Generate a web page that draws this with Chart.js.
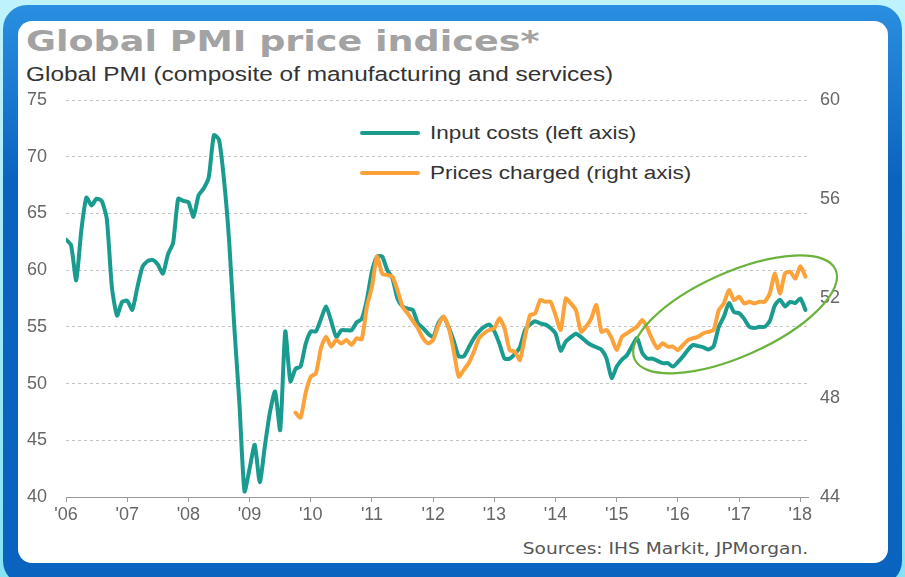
<!DOCTYPE html>
<html lang="en">
<head>
  <meta charset="UTF-8">
  <title>Global PMI price indices</title>
  <script src="https://cdn.jsdelivr.net/npm/chart.js"></script>
  <style>
    html, body { margin: 0; padding: 0; }
    body { width: 905px; height: 577px; position: relative; overflow: hidden;
           background: linear-gradient(#bff3fb, #86e3f3); font-family: "Liberation Sans", Arial, sans-serif; }
    .frame { position: absolute; left: 3px; top: 5px; width: 899px; height: 580px; border-radius: 24px;
             background: linear-gradient(#2a8fe0, #0b63c0 30%, #0b63c0); }
    .panel { position: absolute; left: 18px; top: 21px; width: 870px; height: 542px; border-radius: 14px; background: #fff; }
    .txt { position: absolute; white-space: nowrap; line-height: 1; transform-origin: left center; }
    #title { left: 26px; top: 24px; font: bold 29px "DejaVu Sans", Verdana, sans-serif; color: #a3a3a3; transform: scaleX(1.26); }
    #subtitle { left: 26px; top: 64px; font-size: 20px; color: #333; transform: scaleX(1.22); }
    #sources { right: 97px; top: 540px; font: 15px "DejaVu Sans", Verdana, sans-serif; color: #555; transform-origin: right center; transform: scaleX(1.24); }
    .key { position: absolute; left: 360px; width: 60px; height: 4px; border-radius: 2px; }
    .keytxt { left: 430px; font-size: 18px; color: #333; transform: scaleX(1.25); }
    canvas { position: absolute; left: 0; top: 0; }
  </style>
</head>
<body>
  <div class="frame"></div>
  <div class="panel"></div>
  <div id="title" class="txt">Global PMI price indices*</div>
  <div id="subtitle" class="txt">Global PMI (composite of manufacturing and services)</div>
  <div class="key" style="top:131px;background:#1a9b90"></div>
  <div class="txt keytxt" style="top:124px">Input costs (left axis)</div>
  <div class="key" style="top:171px;background:#fba23a"></div>
  <div class="txt keytxt" style="top:164px">Prices charged (right axis)</div>
  <div id="sources" class="txt">Sources: IHS Markit, JPMorgan.</div>
  <canvas id="chart" width="905" height="577"></canvas>

  <script>
    // x axis: months since Jan 2006, one label per year
    const yearLabels = ["'06", "'07", "'08", "'09", "'10", "'11", "'12", "'13", "'14", "'15", "'16", "'17", "'18"];

    // Input costs, left axis, Jan 2006 .. Feb 2018
    const inputCosts = [
      62.7, 62.2, 59.1, 63.5, 66.4, 65.7, 66.3, 66.1, 64.5, 58.5, 56.0, 57.2,
      57.3, 56.5, 58.5, 60.3, 60.8, 60.9, 60.5, 59.7, 61.4, 62.4, 66.3, 66.1,
      66.0, 64.7, 66.6, 67.2, 68.2, 71.9, 71.5, 67.9, 62.5, 55.0, 48.3, 40.5,
      42.5, 44.6, 41.3, 44.5, 47.5, 49.3, 45.9, 54.6, 50.2, 51.3, 51.5, 53.5,
      54.6, 54.6, 55.7, 56.8, 55.5, 54.1, 54.7, 54.7, 54.7, 55.4, 55.7, 57.4,
      59.9, 61.2, 61.2, 60.0, 59.3, 57.5, 56.8, 56.6, 56.5, 55.3, 54.9, 54.4,
      54.1, 55.3, 55.9, 55.0, 53.8, 52.4, 52.4, 53.2, 54.0, 54.6, 55.0, 55.2,
      54.6, 53.5, 52.2, 52.2, 52.6, 53.2, 54.7, 55.2, 55.5, 55.3, 55.2, 54.9,
      54.4, 52.9, 53.7, 54.1, 54.4, 54.1, 53.7, 53.4, 53.2, 53.0, 52.2, 50.5,
      51.5, 52.1, 52.5, 53.3, 54.0, 52.7, 52.2, 52.2, 52.0, 51.8, 51.8, 51.5,
      51.9, 52.4, 53.0, 53.4, 53.3, 53.2, 53.0, 53.3, 55.0, 55.9, 57.1, 56.3,
      56.2, 55.7, 55.0, 54.9, 55.0, 55.0, 55.5, 56.9, 57.4, 56.8, 57.2, 57.1,
      57.5, 56.5
    ];

    // Prices charged, right axis, Oct 2009 .. Feb 2018
    const pricesStart = 45;
    const pricesCharged = [
      47.4, 47.2, 48.2,
      48.85, 48.98, 50.0, 50.46, 50.06, 50.33, 50.19, 50.33, 50.13, 50.4, 50.36, 51.67,
      52.48, 53.69, 53.0, 52.95, 52.88, 52.34, 51.67, 51.4, 51.1, 50.8, 50.4, 50.19,
      50.33, 50.9, 51.27, 50.87, 49.92, 48.85, 49.12, 49.4, 49.86, 50.4, 50.6, 50.73,
      50.8, 51.2, 50.8, 49.92, 49.86, 49.52, 50.46, 51.33, 51.4, 51.94, 51.87, 51.87,
      51.33, 50.73, 52.0, 51.8, 51.53, 50.66, 50.87, 51.2, 51.74, 50.66, 50.73, 50.4,
      49.92, 50.46, 50.6, 50.73, 50.87, 51.13, 50.8, 50.33, 49.99, 50.2, 50.06, 50.06,
      49.92, 50.13, 50.33, 50.4, 50.46, 50.6, 50.66, 50.73, 51.53, 51.8, 52.34, 51.94,
      52.07, 51.8, 51.87, 51.8, 51.87, 51.87, 52.2, 53.01, 52.2, 53.01, 53.08, 52.8,
      53.3, 52.88
    ];

    // green ring around the recent rise (month, left-axis value, radii in px)
    const ring = { month: 131.2, value: 56.1, rx: 110, ry: 42, angle: -24 };

    const teal = '#1a9b90';
    const orange = '#fba23a';
    const tickFont = { family: '"Liberation Sans", Arial, sans-serif', size: 18 };

    const ringPlugin = {
      id: 'ring',
      afterDatasetsDraw(chart) {
        const c = chart.ctx;
        const cx = chart.scales.x.getPixelForValue(ring.month);
        const cy = chart.scales.y.getPixelForValue(ring.value);
        c.save();
        c.strokeStyle = '#6cb33e';
        c.lineWidth = 2.2;
        c.beginPath();
        c.ellipse(cx, cy, ring.rx, ring.ry, ring.angle * Math.PI / 180, 0, Math.PI * 2);
        c.stroke();
        c.restore();
      }
    };

    const ctx = document.getElementById('chart').getContext('2d');
    const chart = new Chart(ctx, {
      type: 'line',
      data: {
        datasets: [{
          label: 'Input costs (left axis)',
          data: inputCosts.map((v, i) => ({ x: i, y: v })),
          yAxisID: 'y',
          borderColor: teal,
          borderWidth: 4,
          order: 1
        }, {
          label: 'Prices charged (right axis)',
          data: pricesCharged.map((v, i) => ({ x: i + pricesStart, y: v })),
          yAxisID: 'y2',
          borderColor: orange,
          borderWidth: 4,
          order: 0
        }]
      },
      options: {
        responsive: false,
        animation: false,
        devicePixelRatio: 1,
        layout: { padding: { top: 100, left: 0, right: 0, bottom: 0 } },
        elements: {
          point: { radius: 0 },
          line: { tension: 0.2, borderCapStyle: 'round', borderJoinStyle: 'round', fill: false }
        },
        plugins: { legend: { display: false }, tooltip: { enabled: false } },
        scales: {
          x: {
            type: 'linear', min: 0, max: 145.5,
            afterBuildTicks: sc => { sc.ticks = yearLabels.map((_, i) => ({ value: i * 12 })); },
            afterFit: sc => { sc.height = 80; },
            grid: { drawOnChartArea: false, drawTicks: true, tickLength: 5, color: '#999' },
            border: { color: '#999', width: 1 },
            ticks: { color: '#666', font: tickFont, padding: 2, maxRotation: 0, autoSkip: false,
                     callback: v => yearLabels[v / 12] }
          },
          y: {
            position: 'left', min: 40, max: 75,
            afterFit: sc => { sc.width = 66; },
            grid: { color: '#c4c4c4', drawTicks: false },
            border: { display: false, dash: [3, 3] },
            ticks: { stepSize: 5, color: '#666', font: tickFont, padding: 19 }
          },
          y2: {
            position: 'right', min: 44, max: 60,
            afterFit: sc => { sc.width = 97; },
            grid: { display: false, drawTicks: false },
            border: { display: false },
            ticks: { stepSize: 4, color: '#666', font: tickFont, padding: 12 }
          }
        }
      },
      plugins: [ringPlugin]
    });
  </script>
</body>
</html>
